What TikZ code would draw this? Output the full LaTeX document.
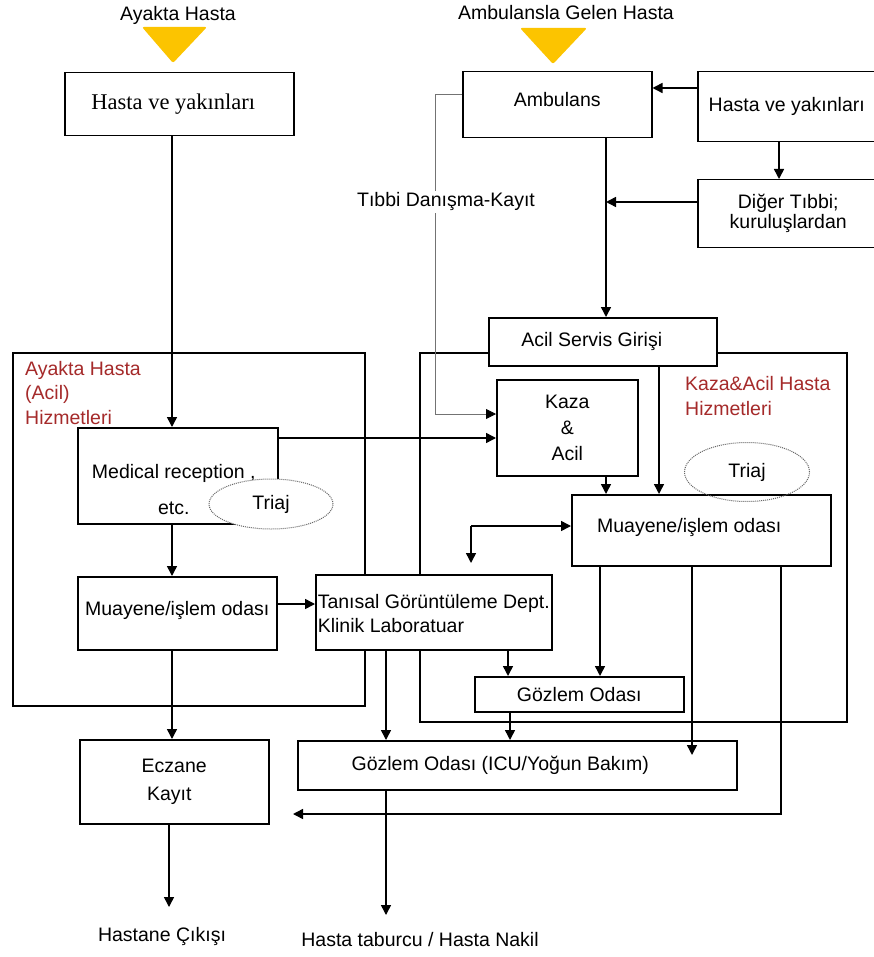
\documentclass[tikz,border=0pt]{standalone}
\usepackage{fontspec}
\setmainfont{Liberation Sans}
\newfontfamily\serifL{Liberation Serif}
\usetikzlibrary{arrows.meta,shapes.geometric}
\definecolor{redtxt}{RGB}{165,42,42}
\definecolor{gold}{RGB}{252,196,0}
\newcommand{\vshift}[2]{\raisebox{#1}[\height][\depth]{#2}}
\begin{document}
\begin{tikzpicture}[x=1pt,y=-1pt,
  box/.style={draw, line width=1.5pt, fill=white, inner sep=0pt, anchor=north west, font=\fontsize{19.5}{22}\selectfont},
  arr/.style={line width=1.5pt, -{Triangle[length=10pt,width=10pt]}},
  ln/.style={line width=1.5pt},
  txt/.style={font=\fontsize{19.5}{22}\selectfont, inner sep=0pt},
  redlbl/.style={anchor=north west, align=left, inner sep=0pt, text=redtxt},
  triaj/.style={ellipse, draw=black!60, densely dotted, line width=1pt, inner sep=0pt, font=\fontsize{19.5}{22}\selectfont}]
\fill[white] (0,0) rectangle (874,957);
\useasboundingbox (0,0) rectangle (874,957);

% containers
\draw[ln] (13,353) rectangle (365,706);
\draw[ln] (420,353) rectangle (847,722);

% top labels and triangles
\node[txt] (lblA) at (178,15) {Ayakta Hasta};
\node[txt] (lblB) at (566,13) {Ambulansla Gelen Hasta};
\fill[gold, rounded corners=2pt] (142,27) -- (207,27) -- (173,63) -- cycle;
\fill[gold, rounded corners=2pt] (520,28) -- (587,28) -- (553,64) -- cycle;

% lane coordinates
\coordinate (t88) at (0,88);
\coordinate (t94) at (0,94);
\coordinate (t202) at (0,202);
\coordinate (t414) at (0,414);
\coordinate (t438) at (0,438);
\coordinate (t526) at (0,526);
\coordinate (t604) at (0,604);
\coordinate (t814) at (0,814);
\coordinate (x172) at (172,0);
\coordinate (x169) at (169,0);
\coordinate (x386) at (386,0);
\coordinate (x435) at (435,0);
\coordinate (x508) at (508,0);
\coordinate (x510) at (510,0);
\coordinate (x600) at (600,0);
\coordinate (x606) at (606,0);
\coordinate (x659) at (659,0);
\coordinate (x692) at (692,0);
\coordinate (x779) at (779,0);
\coordinate (x781) at (781,0);
\coordinate (bd) at (471,526);
\coordinate (retEnd) at (293,814);
\coordinate (endL) at (169,907);
\coordinate (endR) at (386,915);

% boxes
\node[box, minimum width=229pt, minimum height=63pt, font=\serifL\fontsize{22.5}{26}\selectfont] (hyL) at (64,72) {Hasta ve yakınları\hspace*{12pt}};
\node[box, minimum width=189pt, minimum height=66pt] (amb) at (462,71) {\vshift{5pt}{Ambulans}};
\node[box, minimum width=181pt, minimum height=70pt] (hyR) at (697,71) {Hasta ve yakınları\hspace*{3pt}};
\node[box, minimum width=181pt, minimum height=68pt, align=center, font=\fontsize{19.5}{20}\selectfont] (diger) at (697,179) {Diğer Tıbbi;\\kuruluşlardan};
\node[box, minimum width=228pt, minimum height=48pt] (acil) at (488,317) {Acil Servis Girişi\hspace*{22pt}};
\node[box, minimum width=141pt, minimum height=96pt, align=center, font=\fontsize{19.5}{26}\selectfont] (kaza) at (496,379) {Kaza\\\&\\Acil};
\node[box, minimum width=200pt, minimum height=96pt] (medrec) at (77,427) {\vshift{-16pt}{\begin{tabular}{@{}c@{}}Medical reception ,\\[14pt]etc.\end{tabular}}\hspace*{8pt}};
\node[box, minimum width=199pt, minimum height=73pt] (muayL) at (77,576) {\vshift{3pt}{Muayene/işlem odası}};
\node[box, minimum width=236pt, minimum height=75pt, align=left, font=\fontsize{19.5}{24}\selectfont] (tan) at (315,574) {\vshift{-3pt}{\begin{tabular}{@{}l@{}}Tanısal Görüntüleme Dept.\\Klinik Laboratuar\end{tabular}}};
\node[box, minimum width=259pt, minimum height=71pt] (muayR) at (571,494) {\vshift{3pt}{Muayene/işlem odası}\hspace*{24pt}};
\node[box, minimum width=209pt, minimum height=35pt] (goz) at (474,676) {Gözlem Odası};
\node[box, minimum width=439pt, minimum height=49pt] (icu) at (297,740) {Gözlem Odası (ICU/Yoğun Bakım)\hspace*{34pt}};
\node[box, minimum width=189pt, minimum height=84pt, align=center, font=\fontsize{19.5}{28}\selectfont] (ecz) at (79,739) {Eczane\\Kayıt\hspace*{10pt}};

% triage ellipses
\node[triaj, fill=white, minimum width=124pt, minimum height=50pt] (triL) at (271,504) {Triaj};
\node[triaj, minimum width=125pt, minimum height=59pt] (triR) at (747,472) {Triaj};

% section labels
\node[redlbl, font=\fontsize{19.5}{24.5}\selectfont] (secL) at (25,361) {Ayakta Hasta\\(Acil)\\Hizmetleri};
\node[redlbl, font=\fontsize{19.5}{25}\selectfont] (secR) at (685,376) {Kaza\&Acil Hasta\\Hizmetleri};

% Tibbi Danisma line
\draw[line width=0.8pt, black!55, -{Triangle[length=10pt,width=10pt,color=black]}] (amb.west |- t94) -- (t94 -| x435) -- (x435 |- t414) -- (kaza.west |- t414);
\node[txt, fill=white, inner sep=2pt] (tibbi) at (446,202) {Tıbbi Danışma-Kayıt};

% connectors
\draw[arr] (hyR.west |- t88) -- (amb.east |- t88);
\draw[arr] (hyR.south -| x779) -- (diger.north -| x779);
\draw[arr] (amb.south -| x606) -- (acil.north -| x606);
\draw[arr] (diger.west |- t202) -- (t202 -| x606);
\draw[arr] (hyL.south -| x172) -- (medrec.north -| x172);
\draw[arr] (medrec.east |- t438) -- (kaza.west |- t438);
\draw[arr] (medrec.south -| x172) -- (muayL.north -| x172);
\draw[arr] (muayL.east |- t604) -- (tan.west |- t604);
\draw[arr] (muayL.south -| x172) -- (ecz.north -| x172);
\draw[arr] (ecz.south -| x169) -- (endL);
\draw[arr] (acil.south -| x659) -- (muayR.north -| x659);
\draw[arr] (kaza.south -| x606) -- (muayR.north -| x606);
\draw[arr] (bd) -- (muayR.west |- bd);
\draw[arr, shorten >=11pt] (bd) -- (bd |- tan.north);
\draw[arr] (tan.south -| x386) -- (icu.north -| x386);
\draw[arr] (tan.south -| x508) -- (goz.north -| x508);
\draw[arr] (goz.south -| x510) -- (icu.north -| x510);
\draw[arr] (muayR.south -| x600) -- (goz.north -| x600);
\draw[arr, shorten >=-15pt] (muayR.south -| x692) -- (icu.north -| x692);
\draw[arr] (muayR.south -| x781) -- (x781 |- t814) -- (retEnd);
\draw[arr] (icu.south -| x386) -- (endR);

% exits
\node[txt] (exitL) at (162,936) {Hastane Çıkışı};
\node[txt] (exitR) at (420,940) {Hasta taburcu / Hasta Nakil};
\end{tikzpicture}
\end{document}
